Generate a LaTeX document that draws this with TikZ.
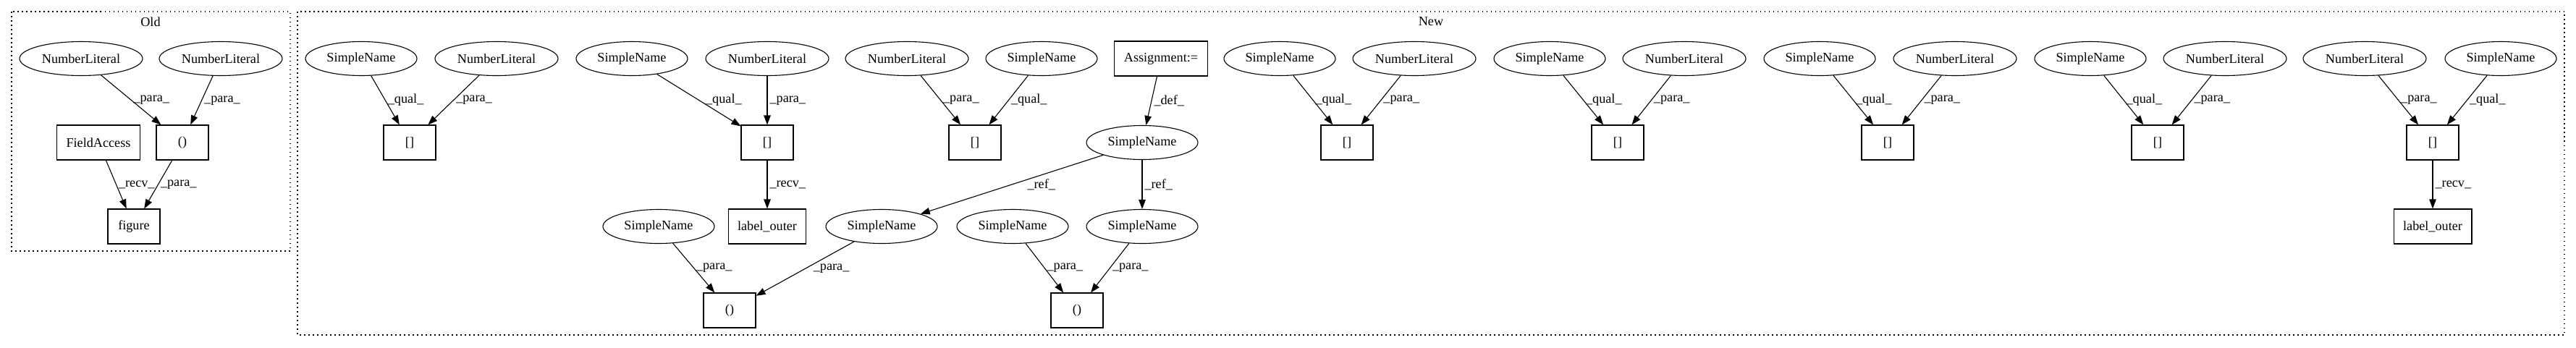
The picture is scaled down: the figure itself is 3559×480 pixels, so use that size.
\documentclass[tikz,border=0pt]{standalone}
\usepackage{fontspec}
\setmainfont{Liberation Serif}
\usetikzlibrary{shapes.geometric,arrows.meta}
\begin{document}
\begin{tikzpicture}[x=1pt,y=-1pt,
  every node/.style={font=\fontsize{18.2}{22}\selectfont},
  ell/.style={draw, ellipse, line width=1.1pt, minimum height=47pt, inner sep=0pt},
  sname/.style={ell, minimum width=154pt},
  nlit/.style={ell, minimum width=170pt},
  box/.style={draw, rectangle, line width=1.1pt, minimum width=72pt, minimum height=48pt, inner xsep=13pt, inner ysep=0pt},
  edge/.style={draw, line width=1.1pt, -{Triangle[length=13pt,width=9.5pt]}},
  lbl/.style={midway, anchor=west, inner sep=3pt},
  cluster/.style={draw, line width=1.1pt, dash pattern=on 1.5pt off 4.5pt},
]
\useasboundingbox (0,0) rectangle (3559,480);
\draw[cluster] (16,16) rectangle (401,347);
\draw[cluster] (411,16) rectangle (3543,463);
\node (oldt) at (208,30) {Old};
\node (newt) at (1977,30) {New};

% Old
\node[nlit] (onl1) at (112,81) {NumberLiteral};
\node[nlit] (onl2) at (305,81) {NumberLiteral};
\node[box] (ofa) at (136,197) {FieldAccess};
\node[box] (opar) at (252,197) {()};
\node[box] (ofig) at (185,313) {figure};
\draw[edge] (onl1) -- (opar) node[lbl] {\_para\_};
\draw[edge] (onl2) -- (opar) node[lbl] {\_para\_};
\draw[edge] (ofa) -- (ofig) node[lbl] {\_recv\_};
\draw[edge] (opar) -- (ofig) node[lbl] {\_para\_};

% New
\node[sname] (a) at (499,81) {SimpleName};
\node[nlit] (b) at (686,81) {NumberLiteral};
\node[box] (bx1) at (566,197) {[]};
\node[sname] (c) at (873,81) {SimpleName};
\node[nlit] (d) at (1060,81) {NumberLiteral};
\node[box] (bx2) at (1060,197) {[]};
\node[box] (lo1) at (1060,313) {label\_outer};
\node[sname] (e) at (910,313) {SimpleName};
\node[box] (bx3) at (1008,429) {()};
\node[nlit] (f) at (1253,81) {NumberLiteral};
\node[sname] (g) at (1439,81) {SimpleName};
\node[box] (bx4) at (1347,197) {[]};
\node[box] (asg) at (1604,81) {Assignment:=};
\node[sname] (h) at (1578,197) {SimpleName};
\node[sname] (i) at (1218,313) {SimpleName};
\node[sname] (j) at (1399,313) {SimpleName};
\node[sname] (k) at (1578,313) {SimpleName};
\node[box] (bx5) at (1488,429) {()};
\node[sname] (l) at (1768,81) {SimpleName};
\node[nlit] (m) at (1954,81) {NumberLiteral};
\node[box] (bx6) at (1861,197) {[]};
\node[sname] (n) at (2141,81) {SimpleName};
\node[nlit] (o) at (2327,81) {NumberLiteral};
\node[box] (bx7) at (2235,197) {[]};
\node[sname] (p) at (2514,81) {SimpleName};
\node[nlit] (q) at (2701,81) {NumberLiteral};
\node[box] (bx8) at (2608,197) {[]};
\node[sname] (r) at (2888,81) {SimpleName};
\node[nlit] (s) at (3074,81) {NumberLiteral};
\node[box] (bx9) at (2981,197) {[]};
\node[nlit] (t) at (3267,81) {NumberLiteral};
\node[sname] (u) at (3455,81) {SimpleName};
\node[box] (bx10) at (3361,197) {[]};
\node[box] (lo2) at (3361,313) {label\_outer};

\draw[edge] (a) -- (bx1) node[lbl] {\_qual\_};
\draw[edge] (b) -- (bx1) node[lbl] {\_para\_};
\draw[edge] (c) -- (bx2) node[lbl, xshift=6pt] {\_qual\_};
\draw[edge] (d) -- (bx2) node[lbl] {\_para\_};
\draw[edge] (bx2) -- (lo1) node[lbl] {\_recv\_};
\draw[edge] (e) -- (bx3) node[lbl] {\_para\_};
\draw[edge] (i) -- (bx3) node[lbl, xshift=8pt] {\_para\_};
\draw[edge] (f) -- (bx4) node[lbl] {\_para\_};
\draw[edge] (g) -- (bx4) node[lbl] {\_qual\_};
\draw[edge] (asg) -- (h) node[lbl] {\_def\_};
\draw[edge] (h) -- (i) node[lbl, xshift=18pt] {\_ref\_};
\draw[edge] (h) -- (k) node[lbl] {\_ref\_};
\draw[edge] (j) -- (bx5) node[lbl] {\_para\_};
\draw[edge] (k) -- (bx5) node[lbl] {\_para\_};
\draw[edge] (l) -- (bx6) node[lbl] {\_qual\_};
\draw[edge] (m) -- (bx6) node[lbl] {\_para\_};
\draw[edge] (n) -- (bx7) node[lbl] {\_qual\_};
\draw[edge] (o) -- (bx7) node[lbl] {\_para\_};
\draw[edge] (p) -- (bx8) node[lbl] {\_qual\_};
\draw[edge] (q) -- (bx8) node[lbl] {\_para\_};
\draw[edge] (r) -- (bx9) node[lbl] {\_qual\_};
\draw[edge] (s) -- (bx9) node[lbl] {\_para\_};
\draw[edge] (t) -- (bx10) node[lbl] {\_para\_};
\draw[edge] (u) -- (bx10) node[lbl] {\_qual\_};
\draw[edge] (bx10) -- (lo2) node[lbl] {\_recv\_};
\end{tikzpicture}
\end{document}
